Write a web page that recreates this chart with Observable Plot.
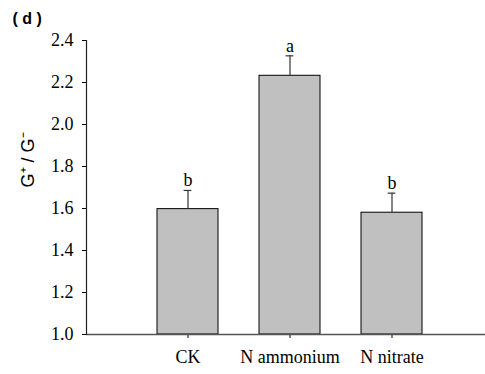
<!DOCTYPE html>
<html>
<head>
<meta charset="utf-8">
<script src="https://cdn.jsdelivr.net/npm/d3@7"></script>
<script src="https://cdn.jsdelivr.net/npm/@observablehq/plot@0.6"></script>
<style>
  body { margin: 0; background: #fff; }
  #chart { position: relative; width: 485px; height: 374px; }
</style>
</head>
<body>
<div id="chart"></div>
<script>
const categories = ["CK", "N ammonium", "N nitrate"];
const means = [1.597, 2.232, 1.580];
const errors = [0.089, 0.095, 0.093];
const letters = ["b", "a", "b"];
const yTicks = [1.0, 1.2, 1.4, 1.6, 1.8, 2.0, 2.2, 2.4];

const data = categories.map((c, i) => ({cat: c, mean: means[i], err: errors[i], top: means[i] + errors[i], letter: letters[i]}));

const serif = "Liberation Serif, Times New Roman, serif";
const sans = "Liberation Sans, Arial, sans-serif";

const plot = Plot.plot({
  width: 485,
  height: 374,
  marginLeft: 86,
  marginRight: 0,
  marginTop: 40,
  marginBottom: 40,
  style: {fontFamily: serif, fontSize: "18px", background: "#fff", color: "#000", overflow: "visible"},
  x: {domain: categories, range: [137, 443], paddingInner: 0.4, paddingOuter: 0.2, axis: null},
  y: {domain: [1.0, 2.4], axis: null},
  marks: [
    Plot.barY(data, {x: "cat", y1: 1.0, y2: "mean", fill: "#c0c0c0", stroke: "#000", strokeWidth: 1}),
    Plot.ruleX(data, {x: "cat", y1: "mean", y2: "top", stroke: "#333", strokeWidth: 1.2}),
    Plot.tickY(data, {x: "cat", y: "top", stroke: "#333", strokeWidth: 1.2, inset: 26.6}),
    Plot.text(data, {x: "cat", y: "top", text: "letter", lineAnchor: "bottom", dy: -4, fontSize: 18, fontFamily: serif}),
    Plot.axisY({ticks: yTicks, tickFormat: d3.format(".1f"), tickSize: 4, tickPadding: 9, label: null}),
    Plot.axisX({tickSize: 4, tickPadding: 12, label: null}),
    Plot.ruleY([1.0], {stroke: "#555", strokeWidth: 1.5}),
    Plot.frame({anchor: "left", stroke: "#222", strokeWidth: 1.2}),
    Plot.text(["G⁺ / G⁻"], {frameAnchor: "left", dx: -58, rotate: -90, fontSize: 18, fontFamily: sans}),
    Plot.text(["( d )"], {frameAnchor: "top-left", textAnchor: "start", dx: -74, dy: -28, fontSize: 16, fontWeight: "bold", fontFamily: sans})
  ]
});
document.getElementById("chart").appendChild(plot);
</script>
</body>
</html>
